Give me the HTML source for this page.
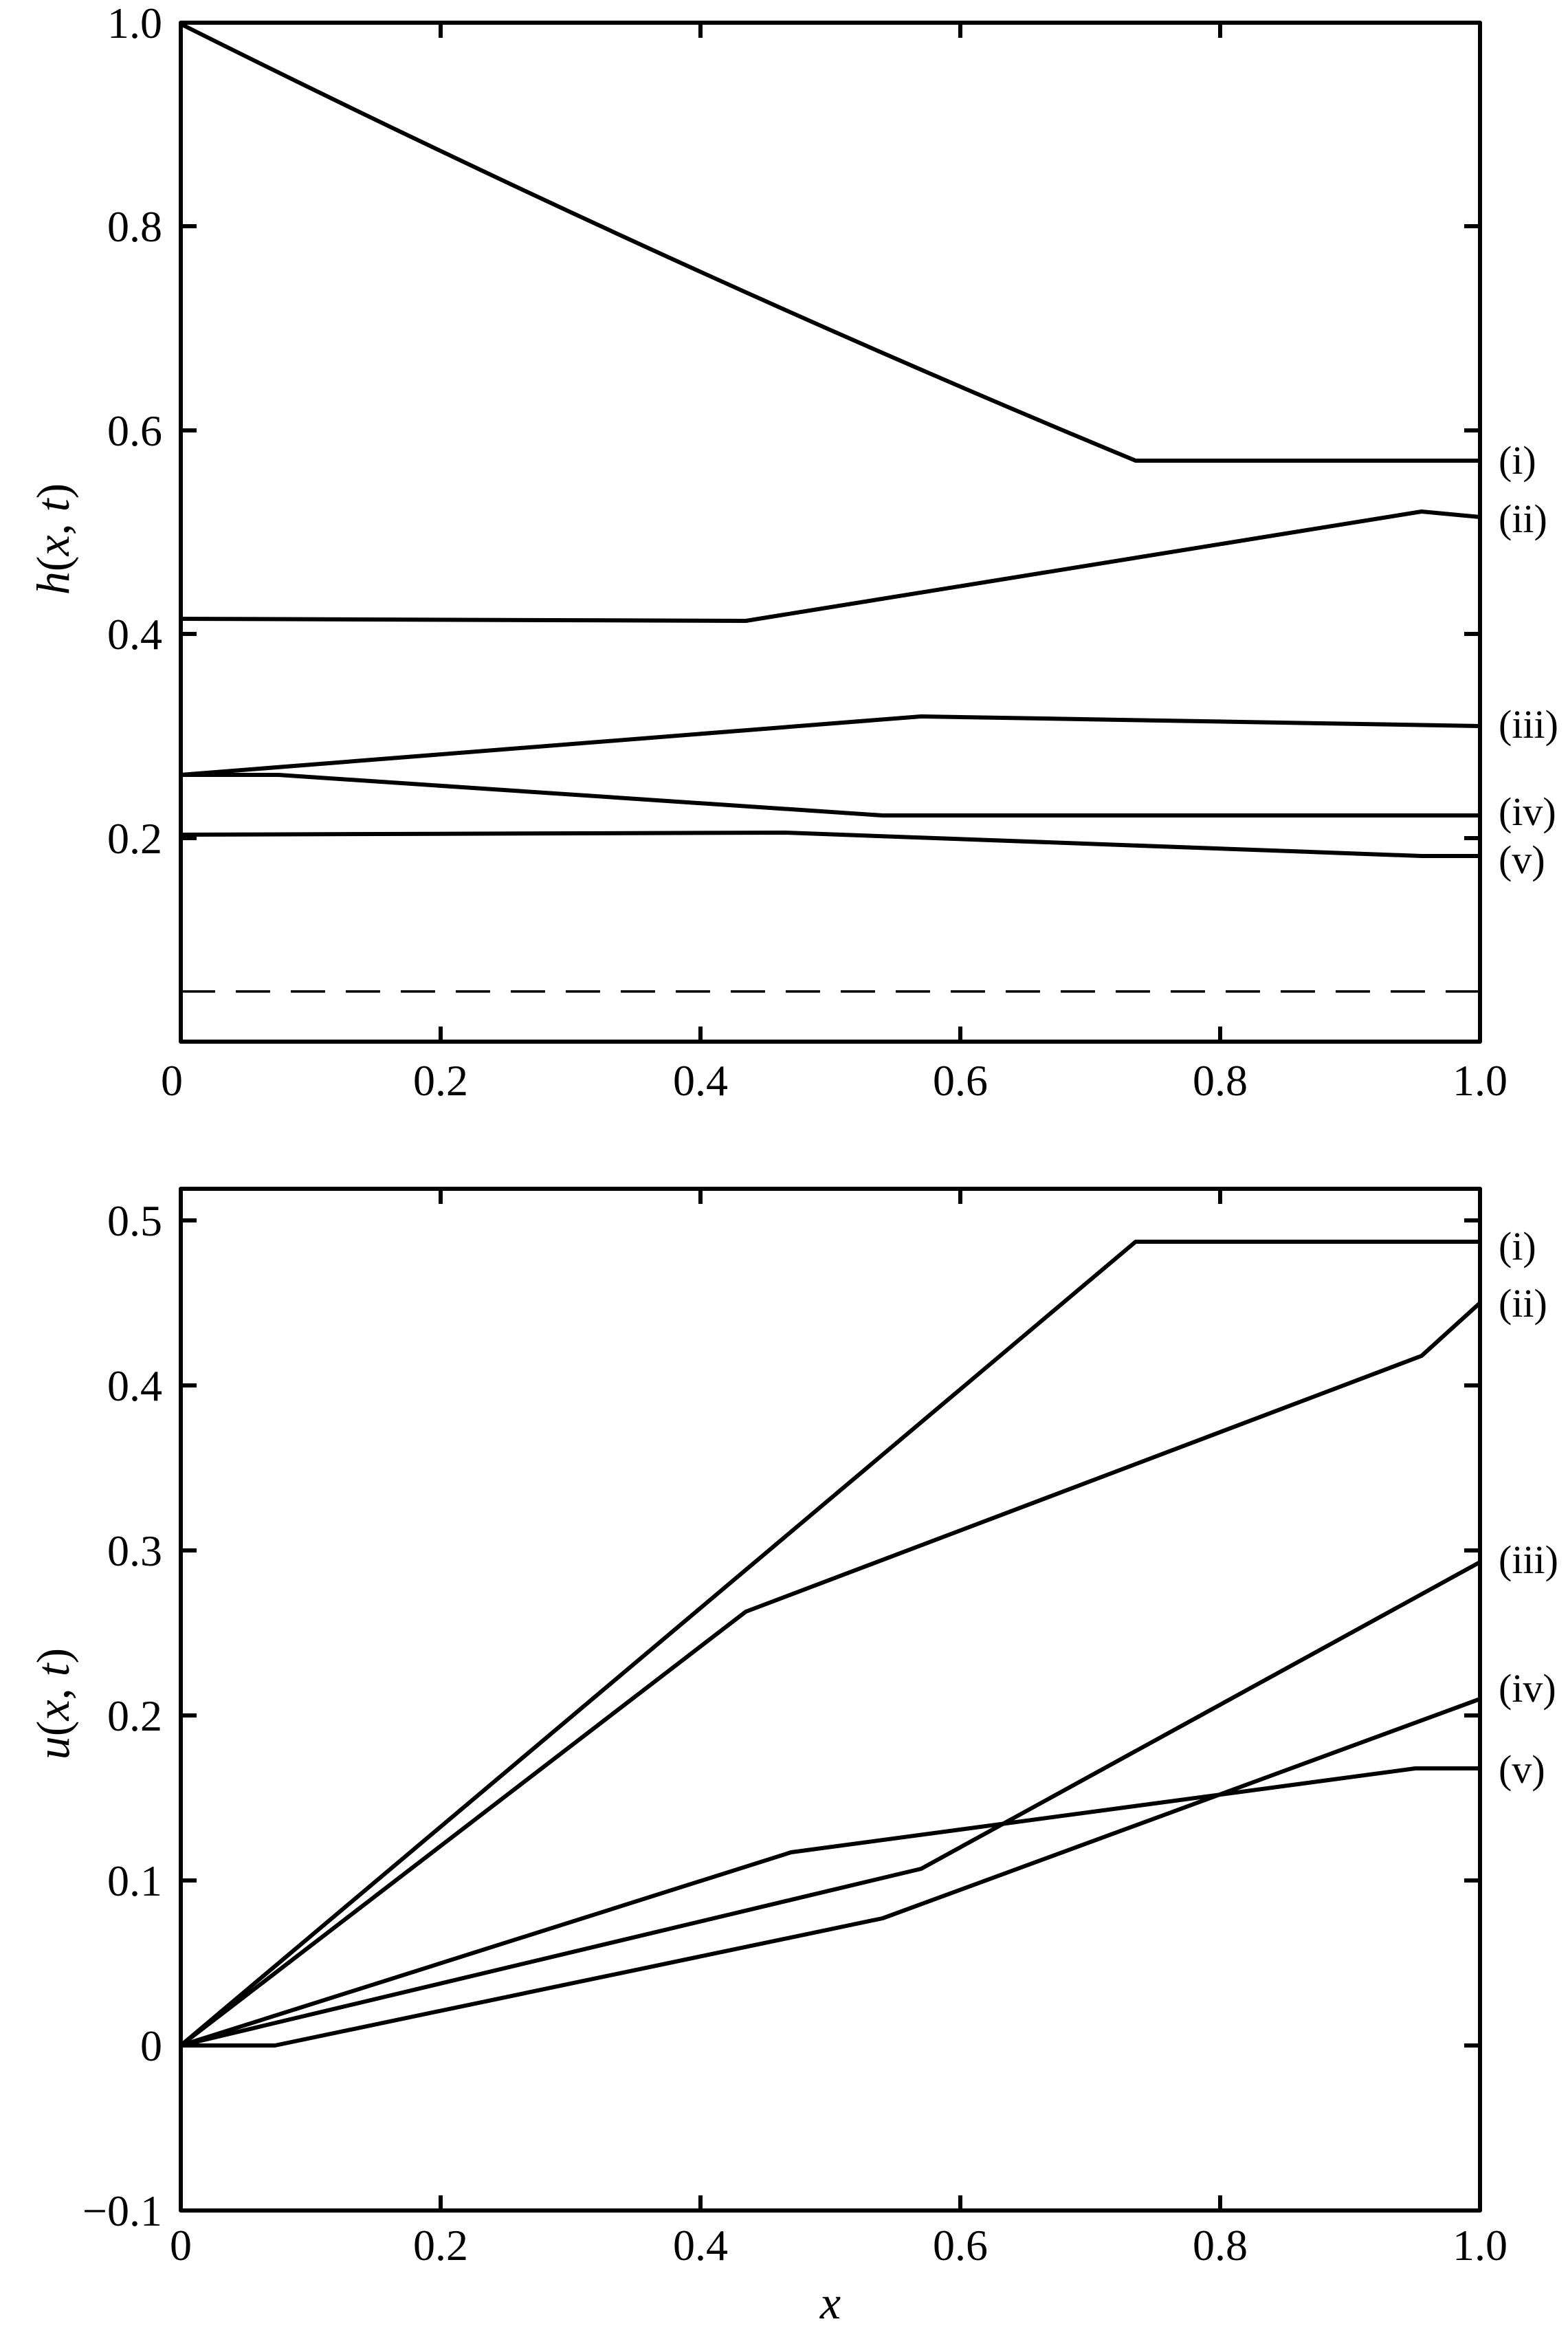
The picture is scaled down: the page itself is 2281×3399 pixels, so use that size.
<!DOCTYPE html>
<html><head><meta charset="utf-8"><style>
html,body{margin:0;padding:0;background:#fff;}
svg{display:block;}
text{font-family:"Liberation Serif","Times New Roman",serif;fill:#000;}
</style></head><body>
<svg width="2281" height="3399" viewBox="0 0 2281 3399" xmlns="http://www.w3.org/2000/svg">
<g fill="none" stroke="#000" stroke-linejoin="round">
<rect x="263" y="33" width="1890" height="1482" stroke-width="6"/>
<g stroke-width="6">
<path d="M641 1515v-22M1019 1515v-22M1397 1515v-22M1775 1515v-22"/>
<path d="M641 33v22M1019 33v22M1397 33v22M1775 33v22"/>
<path d="M263 329h23M263 626h23M263 922h23M263 1219h23"/>
<path d="M2153 329h-23M2153 626h-23M2153 922h-23M2153 1219h-23"/>
</g>
<path d="M263 1442H2153" stroke-width="3.5" stroke-dasharray="50,30"/>
<g stroke-width="6">
<path d="M263 35 Q 957 382 1652 670 L 2153 670"/>
<path d="M263 900 L 1085 903 L 2068 744 L 2153 752"/>
<path d="M263 1127 L 1340 1042 L 2153 1056"/>
<path d="M263 1127 L 405 1127 L 1284 1186 L 2153 1186"/>
<path d="M263 1214 L 1142 1211 L 2068 1245 L 2153 1245"/>
</g>
<rect x="263" y="1729" width="1890" height="1486" stroke-width="6"/>
<g stroke-width="6">
<path d="M641 3215v-22M1019 3215v-22M1397 3215v-22M1775 3215v-22"/>
<path d="M641 1729v22M1019 1729v22M1397 1729v22M1775 1729v22"/>
<path d="M263 2975h23M263 2735h23M263 2495h23M263 2255h23M263 2015h23M263 1775h23"/>
<path d="M2153 2975h-23M2153 2735h-23M2153 2495h-23M2153 2255h-23M2153 2015h-23M2153 1775h-23"/>
</g>
<g stroke-width="6">
<path d="M263 2975 L 1652 1806 L 2153 1806"/>
<path d="M263 2975 L 1085 2344 L 2068 1972 L 2153 1895"/>
<path d="M263 2975 L 1340 2718 L 2153 2272"/>
<path d="M263 2975 L 400 2975 L 1284 2790 L 2153 2471"/>
<path d="M263 2975 L 1151 2694 L 2059 2572 L 2153 2572"/>
</g>
</g>
<g font-size="64" text-anchor="end">
<text x="236" y="55">1.0</text>
<text x="236" y="351">0.8</text>
<text x="236" y="648">0.6</text>
<text x="236" y="944">0.4</text>
<text x="236" y="1241">0.2</text>
<text x="236" y="1797">0.5</text>
<text x="236" y="2037">0.4</text>
<text x="236" y="2277">0.3</text>
<text x="236" y="2517">0.2</text>
<text x="236" y="2757">0.1</text>
<text x="236" y="2997">0</text>
<text x="236" y="3237">−0.1</text>
</g>
<g font-size="64" text-anchor="middle">
<text x="250" y="1593">0</text><text x="641" y="1593">0.2</text><text x="1019" y="1593">0.4</text><text x="1397" y="1593">0.6</text><text x="1775" y="1593">0.8</text><text x="2153" y="1593">1.0</text>
<text x="263" y="3287">0</text><text x="641" y="3287">0.2</text><text x="1019" y="3287">0.4</text><text x="1397" y="3287">0.6</text><text x="1775" y="3287">0.8</text><text x="2153" y="3287">1.0</text>
<text x="1208" y="3372" font-style="italic" font-size="68">x</text>
</g>
<text transform="translate(100,784) rotate(-90)" text-anchor="middle" font-size="68"><tspan font-style="italic">h</tspan>(<tspan font-style="italic">x</tspan>, <tspan font-style="italic">t</tspan>)</text>
<text transform="translate(100,2478) rotate(-90)" text-anchor="middle" font-size="68"><tspan font-style="italic">u</tspan>(<tspan font-style="italic">x</tspan>, <tspan font-style="italic">t</tspan>)</text>
<g font-size="58">
<text x="2180" y="689">(i)</text>
<text x="2180" y="774">(ii)</text>
<text x="2180" y="1073">(iii)</text>
<text x="2180" y="1200">(iv)</text>
<text x="2180" y="1270">(v)</text>
<text x="2180" y="1832">(i)</text>
<text x="2180" y="1915">(ii)</text>
<text x="2180" y="2288">(iii)</text>
<text x="2180" y="2475">(iv)</text>
<text x="2180" y="2593">(v)</text>
</g>
</svg>
</body></html>
